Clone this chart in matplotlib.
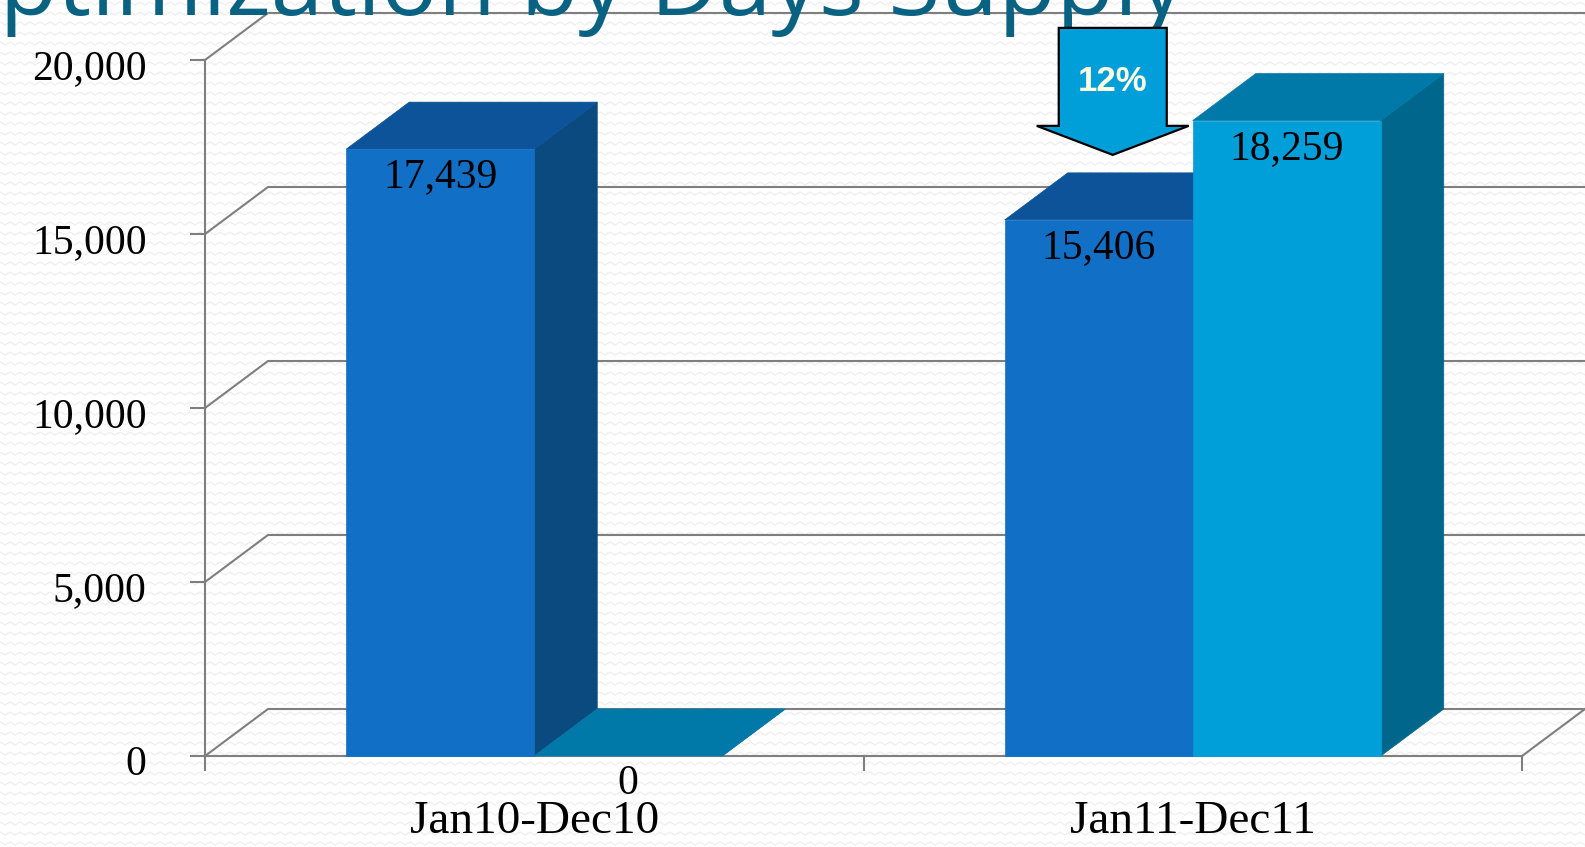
import numpy as np
import matplotlib
matplotlib.use("Agg")
import matplotlib.pyplot as plt
import matplotlib.transforms as mtransforms
from matplotlib.patches import Polygon, Rectangle
from matplotlib.collections import LineCollection

# chart data
categories = ["Jan10-Dec10", "Jan11-Dec11"]
prior_values = [17439, 15406]
current_values = [0, 18259]
y_ticks = [0, 5000, 10000, 15000, 20000]
y_tick_labels = ["0", "5,000", "10,000", "15,000", "20,000"]
change_text = "12%"
title_text = "Optimization by Days Supply"

W, H = 1585, 847
DPI = 100

GRID = "#7f7f7f"
SERIF = ["Liberation Serif", "DejaVu Serif"]
PRIOR = dict(front="#116fc6", top="#0c5399", side="#0a4a7f")
CURRENT = dict(front="#009fda", top="#0079a8", side="#00668b")

fig = plt.figure(figsize=(W / DPI, H / DPI), dpi=DPI)
fig.patch.set_facecolor("white")

# faint zigzag texture behind everything
bg = fig.add_axes([0, 0, 1, 1], zorder=-5)
bg.set_xlim(0, W)
bg.set_ylim(H, 0)
bg.axis("off")
xs = np.arange(0, W + 10, 5)
zig = np.where((xs // 5) % 2 == 0, 0.0, 3.0)
rows = [np.column_stack([xs, y0 + zig]) for y0 in np.arange(2, H, 10)]
bg.add_collection(LineCollection(rows, colors="#efefef", linewidths=1.0))

# front plane of the 3D chart
ax = fig.add_axes([205 / W, (H - 756) / H, (1522 - 205) / W, (756 - 60) / H])
ax.set_xlim(0, 2)
ax.set_ylim(0, 20000)
ax.patch.set_alpha(0)

# depth of the walls / bars in data units
DX = 63 / ((1522 - 205) / 2)
DY = 47 / (756 - 60) * 20000
BW = 0.2855

for s in ["top", "right"]:
    ax.spines[s].set_visible(False)
for s in ["left", "bottom"]:
    ax.spines[s].set_color(GRID)
    ax.spines[s].set_linewidth(1.5)
    ax.spines[s].set_zorder(2)

ax.set_yticks(y_ticks)
ax.set_yticklabels(y_tick_labels, family=SERIF, fontsize=30)
ax.tick_params(axis="y", direction="out", length=11, width=1.5, color=GRID, pad=31)
ax.set_xticks([0, 1, 2])
ax.set_xticklabels([])
ax.tick_params(axis="x", direction="out", length=11, width=1.5, color=GRID)
shift = mtransforms.ScaledTranslation(0, -4 / DPI, fig.dpi_scale_trans)
for lab in ax.get_yticklabels():
    lab.set_transform(lab.get_transform() + shift)

# back wall gridlines and floor
for v in y_ticks:
    ax.plot([0, DX, 2 + DX], [v, v + DY, v + DY], color=GRID, lw=1.5,
            clip_on=False, zorder=1, solid_capstyle="butt")
ax.plot([2, 2 + DX], [0, DY], color=GRID, lw=1.5, clip_on=False, zorder=1)


def draw_bar(x0, v, colors):
    side = [(x0 + BW, 0), (x0 + BW + DX, DY), (x0 + BW + DX, v + DY), (x0 + BW, v)]
    top = [(x0, v), (x0 + BW, v), (x0 + BW + DX, v + DY), (x0 + DX, v + DY)]
    ax.add_patch(Polygon(side, closed=True, fc=colors["side"], ec=colors["side"],
                         lw=0.5, clip_on=False, zorder=3))
    ax.add_patch(Polygon(top, closed=True, fc=colors["top"], ec=colors["top"],
                         lw=0.5, clip_on=False, zorder=3))
    if v > 0:
        ax.add_patch(Rectangle((x0, 0), BW, v, fc=colors["front"], ec=colors["front"],
                               lw=0.5, clip_on=False, zorder=3))
    ax.annotate(f"{v:,}", xy=(x0 + BW / 2, v), xytext=(0, -20),
                textcoords="offset points", ha="center", va="center",
                family=SERIF, fontsize=30, color="black", zorder=5,
                annotation_clip=False)


for i, cat in enumerate(categories):
    c = i + 0.5
    draw_bar(c - BW, prior_values[i], PRIOR)
    draw_bar(c, current_values[i], CURRENT)
    ax.annotate(cat, xy=(c, 0), xytext=(0, -77 * 0.72), textcoords="offset points",
                ha="center", va="baseline", family=SERIF, fontsize=34,
                color="black", annotation_clip=False)

# block arrow marking the change, placed over the 2011 prior bar
fig.canvas.draw()
tip_x, tip_y = ax.transData.transform((1.5 - BW / 2, prior_values[1] + DY))
tip_x += 14
tip_y += 18
shaft_hw, head_hw, head_h, total_h = 54, 76, 29, 127
arrow_pts = [
    (tip_x - shaft_hw, tip_y + total_h),
    (tip_x + shaft_hw, tip_y + total_h),
    (tip_x + shaft_hw, tip_y + head_h),
    (tip_x + head_hw, tip_y + head_h),
    (tip_x, tip_y),
    (tip_x - head_hw, tip_y + head_h),
    (tip_x - shaft_hw, tip_y + head_h),
]
fig.patches.append(Polygon(arrow_pts, closed=True, transform=None, fc="#009fda",
                           ec="black", lw=1.6, zorder=6, figure=fig))
fig.text(tip_x / W, (tip_y + head_h + (total_h - head_h) / 2 - 5) / H, change_text,
         ha="center", va="center", family=["Liberation Sans Narrow", "Liberation Sans"],
         fontweight="bold", fontsize=25, color="#fffbe0", zorder=7)

# slide title, cut off by the top edge
fig.text(1185 / W, (H - 15) / H, title_text, ha="right", va="baseline",
         family=["Open Sans", "DejaVu Sans"], fontsize=68, color="#0a6282")

fig.savefig("out.png", dpi=DPI, facecolor=fig.get_facecolor())
